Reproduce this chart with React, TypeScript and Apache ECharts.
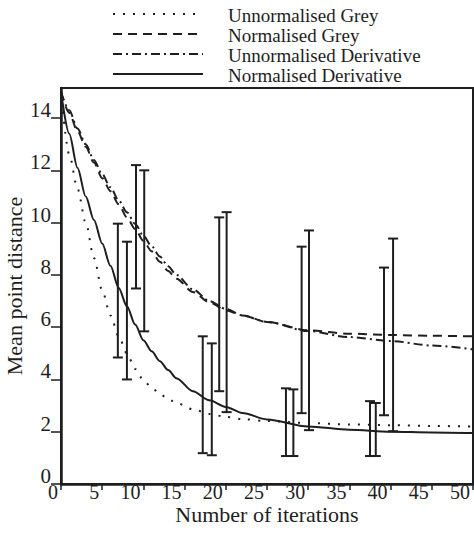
import React, { useEffect, useRef } from "react";
import * as echarts from "echarts";

const iterations = [0, 1, 2, 3, 4, 5, 6, 7, 8, 9, 10, 11, 12, 13, 14, 16, 18, 20, 22, 25, 30, 35, 40, 45, 50];
const unnormalisedGrey = [15, 12.6, 11.3, 10.0, 8.65, 7.4, 6.45, 5.65, 5.0, 4.4, 3.98, 3.68, 3.45, 3.25, 3.1, 2.86, 2.68, 2.57, 2.48, 2.41, 2.33, 2.28, 2.25, 2.22, 2.2];
const normalisedGrey = [15, 14.2, 13.5, 12.9, 12.3, 11.7, 11.2, 10.7, 10.2, 9.75, 9.3, 8.9, 8.5, 8.15, 7.85, 7.35, 6.95, 6.65, 6.45, 6.2, 5.88, 5.75, 5.7, 5.67, 5.65];
const unnormalisedDerivative = [15, 14.3, 13.6, 13.0, 12.4, 11.85, 11.35, 10.85, 10.4, 9.95, 9.5, 9.1, 8.7, 8.33, 8.0, 7.45, 7.0, 6.7, 6.45, 6.2, 5.85, 5.62, 5.47, 5.3, 5.15];
const normalisedDerivative = [15, 13.4, 12.1, 11.0, 10.1, 9.2, 8.35, 7.5, 6.8, 6.1, 5.5, 5.08, 4.7, 4.36, 4.05, 3.55, 3.2, 2.95, 2.72, 2.47, 2.2, 2.08, 2.0, 1.97, 1.95];

const seriesNames = ["Unnormalised Grey", "Normalised Grey", "Unnormalised Derivative", "Normalised Derivative"];

// error bars: positions (iterations), lower and upper ends
const errorBarX = [
  [6.9, 17.2, 27.3, 37.5],
  [8.0, 18.3, 28.2, 38.2],
  [9.1, 19.2, 29.2, 39.2],
  [10.1, 20.1, 30.1, 40.3],
];
const errorBarLow = [
  [4.84, 1.18, 1.07, 1.07],
  [4.0, 1.1, 1.07, 1.07],
  [7.48, 3.55, 2.71, 2.63],
  [5.84, 2.75, 2.06, 2.02],
];
const errorBarHigh = [
  [9.96, 5.65, 3.66, 3.17],
  [9.27, 5.38, 3.62, 3.1],
  [12.2, 10.2, 9.08, 8.28],
  [12.0, 10.4, 9.7, 9.39],
];

const xTicks = [0, 5, 10, 15, 20, 25, 30, 35, 40, 45, 50];
const yTicks = [0, 2, 4, 6, 8, 10, 12, 14];

const INK = "#1e1e1e";
const FONT = "'Liberation Serif', 'Times New Roman', serif";
const DASHES: any[] = [[2, 8], [9, 6], [9, 4, 2, 4], null];

export default function App() {
  const ref = useRef<HTMLDivElement>(null);
  useEffect(() => {
    if (!ref.current) return;
    const chart = echarts.init(ref.current, null, { renderer: "svg" });
    const values = [unnormalisedGrey, normalisedGrey, unnormalisedDerivative, normalisedDerivative];
    const lineSeries = values.map((vals, i) => ({
      name: seriesNames[i],
      type: "line",
      data: iterations.map((x, j) => [x, vals[j]]),
      smooth: 0.3,
      smoothMonotone: "x",
      symbol: "none",
      showSymbol: false,
      lineStyle: { color: INK, width: 2, type: DASHES[i] || "solid" },
      itemStyle: { color: INK },
      z: 3,
    }));
    const errorSeries = errorBarX.map((xs, i) => ({
      type: "custom",
      name: "err" + i,
      data: xs.map((x, j) => [x, errorBarLow[i][j], errorBarHigh[i][j]]),
      renderItem: (params: any, api: any) => {
        const lo = api.coord([api.value(0), api.value(1)]);
        const hi = api.coord([api.value(0), api.value(2)]);
        const hw = 5;
        const style = { stroke: INK, lineWidth: 2 };
        return {
          type: "group",
          children: [
            { type: "line", shape: { x1: lo[0], y1: lo[1], x2: hi[0], y2: hi[1] }, style },
            { type: "line", shape: { x1: hi[0] - hw, y1: hi[1], x2: hi[0] + hw, y2: hi[1] }, style },
            { type: "line", shape: { x1: lo[0] - hw, y1: lo[1], x2: lo[0] + hw, y2: lo[1] }, style },
          ],
        };
      },
      z: 4,
    }));
    const legendRowY = [14, 34, 54, 74];
    const legendGraphics: any[] = [];
    seriesNames.forEach((name, i) => {
      const y = legendRowY[i];
      legendGraphics.push({
        type: "line",
        shape: { x1: 113, y1: y, x2: 203, y2: y },
        style: { stroke: INK, lineWidth: 2, lineDash: DASHES[i] || undefined },
      });
      legendGraphics.push({
        type: "text",
        x: 228,
        y: y + 1,
        style: {
          text: name,
          fontFamily: FONT,
          fontSize: 19,
          fill: INK,
          verticalAlign: "middle",
          align: "left",
        },
      });
    });
    chart.setOption({
      animation: false,
      backgroundColor: "#ffffff",
      graphic: legendGraphics,
      grid: {
        left: 61,
        right: 1,
        top: 88,
        bottom: 52,
        show: true,
        borderColor: INK,
        borderWidth: 2,
        backgroundColor: "transparent",
        containLabel: false,
        outerBoundsMode: "none",
      },
      xAxis: {
        type: "value",
        min: 0,
        max: 50,
        interval: 5,
        name: "Number of iterations",
        nameLocation: "middle",
        nameGap: 22,
        nameMoveOverlap: false,
        nameTextStyle: { fontFamily: FONT, fontSize: 22, color: INK, lineHeight: 16 },
        axisLine: { show: true, lineStyle: { color: INK, width: 2.5 } },
        axisTick: { show: true, length: 6, lineStyle: { color: INK, width: 1.5 }, customValues: xTicks },
        axisLabel: {
          customValues: xTicks,
          fontFamily: FONT,
          fontSize: 20,
          lineHeight: 16,
          color: INK,
          align: "right",
          margin: 0,
          padding: [0, 3, 0, 0],
          hideOverlap: false,
        },
        splitLine: { show: false },
      },
      yAxis: {
        type: "value",
        min: 0,
        max: 15.15,
        name: "Mean point distance",
        nameLocation: "middle",
        nameGap: 36,
        nameMoveOverlap: false,
        nameTextStyle: { fontFamily: FONT, fontSize: 22, color: INK },
        axisLine: { show: true, lineStyle: { color: INK, width: 2.5 } },
        axisTick: { show: true, length: 10, lineStyle: { color: INK, width: 1.5 }, customValues: yTicks },
        axisLabel: {
          customValues: yTicks,
          fontFamily: FONT,
          fontSize: 21,
          lineHeight: 16,
          color: INK,
          align: "right",
          verticalAlign: "bottom",
          margin: 10,
        },
        splitLine: { show: false },
      },
      series: [...lineSeries, ...errorSeries],
    });
    return () => chart.dispose();
  }, []);
  return (
    <div
      ref={ref}
      style={{ position: "fixed", left: 0, top: 0, width: 474, height: 536, background: "#fff" }}
    />
  );
}
